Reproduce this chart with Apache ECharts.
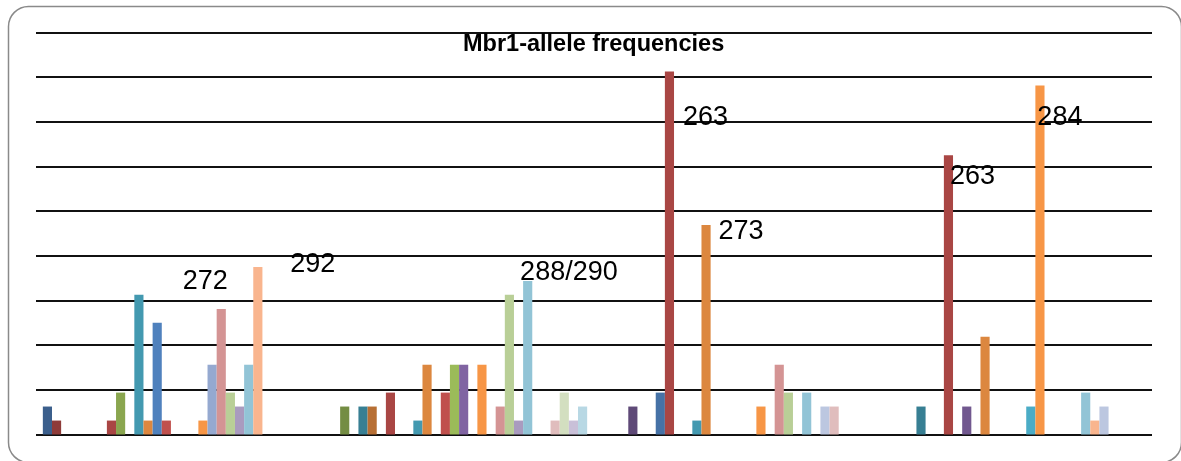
<!DOCTYPE html>
<html>
<head>
<meta charset="utf-8">
<script src="https://cdn.jsdelivr.net/npm/echarts@6/dist/echarts.min.js"></script>
<style>
html,body{margin:0;padding:0;background:#fff;}
#chart{width:1181px;height:461px;}
</style>
</head>
<body>
<div id="chart"></div>
<script>
// Populations (categories) and 29 allele series; frequencies (n = 64 alleles per population)
const categories = ['Pop 1', 'Pop 2', 'Pop 3', 'Pop 4'];
const alleleNames = ['A1','A2','A3','A4','A5','A6','A7','263','A9','A10','A11','273','A13','A14','A15','A16','A17','284',
  'A19','A20','A21','A22','A23','A24','A25','A26','A27','A28','A29'];
const pop1Freq = [0.0313,0.0156,0,0,0,0,0,0.0156,0.0469,0,0.1563,0.0156,0.125,0.0156,0,0,0,0.0156,
  0.0781,0.1406,0.0469,0.0313,0.0781,0.1875,0,0,0,0,0];
const pop2Freq = [0,0,0.0313,0,0.0313,0.0313,0,0.0469,0,0,0.0156,0.0781,0,0.0469,0.0781,0.0781,0,0.0781,
  0,0.0313,0.1563,0.0156,0.1719,0,0,0.0156,0.0469,0.0156,0.0313];
const pop3Freq = [0,0,0,0.0313,0,0,0.0469,0.4063,0,0,0.0156,0.2344,0,0,0,0,0,0.0313,
  0,0.0781,0.0469,0,0.0469,0,0.0313,0.0313,0,0,0];
const pop4Freq = [0,0,0,0,0.0313,0,0,0.3125,0,0.0313,0,0.1094,0,0,0,0,0.0313,0.3906,
  0,0,0,0,0.0469,0.0156,0.0313,0,0,0,0];
const yTicks = [0,0.05,0.1,0.15,0.2,0.25,0.3,0.35,0.4,0.45];
// Text annotations attached to bars: [text, category index, allele index]
const annotations = [
  ['272', 0, 19], ['292', 0, 23], ['288/290', 1, 22],
  ['263', 2, 7], ['273', 2, 11], ['263', 3, 7], ['284', 3, 17]
];

const palette = [
  '#3B5F8C','#8E3B39','#748D43','#5F4A78','#377F93','#B76F34',
  '#4672A6','#A94644','#8AA64F','#71588F','#4399B0','#DC873F',
  '#4F81BD','#C0504D','#9BBB59','#8064A2','#4BACC6','#F79646',
  '#95A9D0','#D49494','#B9CF97','#A99BBF','#92C4D6','#F9B58E',
  '#BCC7E0','#E0BDBD','#D3DFC0','#C9C0D8','#B8D8E4'
];
// label offsets relative to the bar's top-left corner
const labelOffsets = [[-34,-27],[37,-2],[-3,-8],[18,46],[17,6],[6,21],[2,32]];

const pops = [pop1Freq, pop2Freq, pop3Freq, pop4Freq];
const series = alleleNames.map(function (name, i) {
  const data = pops.map(function (p, c) {
    const item = { value: p[i] };
    annotations.forEach(function (a, k) {
      if (a[1] === c && a[2] === i) {
        item.label = {
          show: true, formatter: a[0], position: labelOffsets[k],
          align: 'left', verticalAlign: 'middle',
          fontFamily: 'Liberation Sans', fontSize: 27, color: '#000'
        };
      }
    });
    return item;
  });
  return {
    name: name, type: 'bar', data: data,
    barGap: '0%', barCategoryGap: '4.9%',
    itemStyle: { color: palette[i] },
    label: { show: false },
    emphasis: { disabled: true },
    z: 3
  };
});

const chart = echarts.init(document.getElementById('chart'), null, { renderer: 'canvas' });
chart.setOption({
  animation: false,
  backgroundColor: '#fff',
  title: {
    text: 'Mbr1-allele frequencies',
    left: 463, top: 33, padding: 0,
    textStyle: { fontFamily: 'Liberation Sans', fontWeight: 'bold', fontSize: 23.5, color: '#000', lineHeight: 23 }
  },
  graphic: [{
    type: 'rect', left: 6, top: 4, z: -1, silent: true,
    shape: { width: 1173, height: 456, r: 20 },
    style: { fill: 'none', stroke: '#8a8a8a', lineWidth: 1.5 }
  }],
  grid: { left: 36, right: 29, top: 32.5, bottom: 26.5 },
  xAxis: {
    type: 'category', data: categories,
    axisLine: { show: false }, axisTick: { show: false }, axisLabel: { show: false },
    splitLine: { show: false }
  },
  yAxis: {
    type: 'value', min: yTicks[0], max: yTicks[yTicks.length - 1], interval: 0.05,
    axisLine: { show: false }, axisTick: { show: false }, axisLabel: { show: false },
    splitLine: { show: true, lineStyle: { color: '#111', width: 2 } }
  },
  tooltip: { show: false },
  series: series
});
</script>
</body>
</html>
